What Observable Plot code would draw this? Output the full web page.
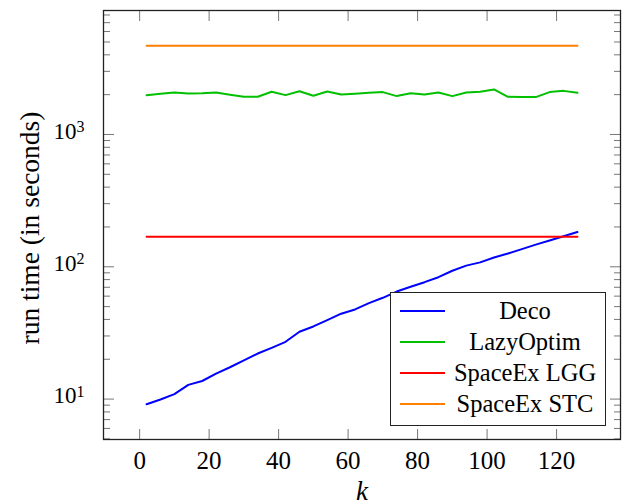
<!DOCTYPE html>
<html>
<head>
<meta charset="utf-8">
<script src="https://cdn.jsdelivr.net/npm/d3@7"></script>
<script src="https://cdn.jsdelivr.net/npm/@observablehq/plot@0.6"></script>
<style>
  html, body { margin: 0; padding: 0; background: white; }
  #wrap { position: relative; width: 632px; height: 504px; }
  #legend { position: absolute; left: 390px; top: 292px; width: 214px; height: 132px;
    border: 1.3px solid #222; background: white; font-family: "Liberation Serif", "Times New Roman", Times, serif; font-size: 24.5px; }
  #legend .row { position: absolute; left: 0; width: 214px; height: 30px; }
  #legend .sw { position: absolute; left: 9px; top: 14px; width: 45px; height: 2px; }
  #legend .lab { position: absolute; left: 54px; right: 0; top: 0; text-align: center; line-height: 30px; }
</style>
</head>
<body>
<div id="wrap"></div>
<script>
const k = [2, 6, 10, 14, 18, 22, 26, 30, 34, 38, 42, 46, 50, 54, 58, 62,
           66, 70, 74, 78, 82, 86, 90, 94, 98, 102, 106, 110, 114, 118, 122, 126];
const deco = [9.15, 9.93, 10.9, 12.8, 13.7, 15.6, 17.4, 19.6, 22.1, 24.4, 27.1, 32.3, 35.4, 39.5, 44.2, 47.6,
              53.1, 58.3, 65, 70.6, 76.5, 83.4, 93.3, 102, 108, 117.5, 126, 136, 147, 158, 170, 183];
const lazyOptim = [1983, 2030, 2078, 2042, 2052, 2078, 1996, 1927, 1927, 2101, 1983, 2124, 1961, 2113, 2005, 2030,
                   2066, 2090, 1950, 2052, 2005, 2078, 1950, 2078, 2101, 2188, 1927, 1916, 1916, 2090, 2136, 2066];
const spaceExLGG = 169;
const spaceExSTC = 4680;
const seriesNames = ["Deco", "LazyOptim", "SpaceEx LGG", "SpaceEx STC"];
const seriesColors = ["#0000ff", "#00c000", "#ff0000", "#ff8000"];
const xTicks = [0, 20, 40, 60, 80, 100, 120];
const yMajor = [10, 100, 1000];
const yMinor = [5, 6, 7, 8, 9, 20, 30, 40, 50, 60, 70, 80, 90, 200, 300, 400, 500, 600, 700, 800, 900,
                2000, 3000, 4000, 5000, 6000, 7000, 8000];
const xLabel = "k";
const yLabel = "run time (in seconds)";

const rows = [];
k.forEach((kk, i) => {
  rows.push({k: kk, t: deco[i], name: seriesNames[0]});
  rows.push({k: kk, t: lazyOptim[i], name: seriesNames[1]});
  rows.push({k: kk, t: spaceExLGG, name: seriesNames[2]});
  rows.push({k: kk, t: spaceExSTC, name: seriesNames[3]});
});

const serif = "'Liberation Serif', 'Times New Roman', Times, serif";
const tickStroke = "#777";
const chart = Plot.plot({
  width: 632, height: 504,
  marginLeft: 103, marginRight: 12, marginTop: 10, marginBottom: 65,
  style: {fontFamily: serif, fontSize: "24px", background: "white", color: "black"},
  x: {domain: [-10.4, 138.4]},
  y: {type: "log", domain: [4.95, 8650]},
  color: {domain: seriesNames, range: seriesColors},
  marks: [
    Plot.axisX(xTicks, {anchor: "bottom", tickSize: -10, tickFormat: () => "", stroke: tickStroke, label: null}),
    Plot.axisX(xTicks, {anchor: "top", tickSize: -10, tickFormat: () => "", stroke: tickStroke, label: null}),
    Plot.axisY(yMajor, {anchor: "left", tickSize: -11, tickFormat: () => "", stroke: tickStroke, label: null}),
    Plot.axisY(yMajor, {anchor: "right", tickSize: -11, tickFormat: () => "", stroke: tickStroke, label: null}),
    Plot.axisY(yMinor, {anchor: "left", tickSize: -7, tickFormat: () => "", stroke: tickStroke, label: null}),
    Plot.axisY(yMinor, {anchor: "right", tickSize: -7, tickFormat: () => "", stroke: tickStroke, label: null}),
    Plot.axisX(xTicks, {anchor: "bottom", tickSize: 0, tickPadding: 12, label: null, fontSize: 25, fontFamily: serif}),
    Plot.axisY(yMajor, {anchor: "left", tickSize: 0, tickPadding: 19, label: null, fontSize: 23, dy: -3, fontFamily: serif,
      tickFormat: d => "10^" + Math.round(Math.log10(d))}),
    Plot.line(rows, {x: "k", y: "t", z: "name", stroke: "name", strokeWidth: 2}),
    Plot.frame({stroke: "#222", strokeWidth: 1.3}),
    Plot.text([xLabel], {frameAnchor: "bottom", dy: 60, fontStyle: "italic", fontSize: 27, fontFamily: serif}),
    Plot.text([yLabel], {frameAnchor: "left", dx: -73, dy: 3, rotate: -90, textAnchor: "middle", lineAnchor: "middle",
      fontSize: 27.5, fontFamily: serif})
  ]
});

// superscript exponents
chart.querySelectorAll("text").forEach(t => {
  const m = /^10\^(\d+)$/.exec(t.textContent);
  if (m) {
    t.innerHTML = `10<tspan dy="-0.42em" font-size="16">${m[1]}</tspan>`;
  }
});

const wrap = document.getElementById("wrap");
wrap.appendChild(chart);

const legend = document.createElement("div");
legend.id = "legend";
seriesNames.forEach((name, i) => {
  const row = document.createElement("div");
  row.className = "row";
  row.style.top = (3 + i * 31) + "px";
  const sw = document.createElement("div");
  sw.className = "sw";
  sw.style.background = seriesColors[i];
  const lab = document.createElement("div");
  lab.className = "lab";
  lab.textContent = name;
  row.appendChild(sw);
  row.appendChild(lab);
  legend.appendChild(row);
});
wrap.appendChild(legend);
</script>
</body>
</html>
